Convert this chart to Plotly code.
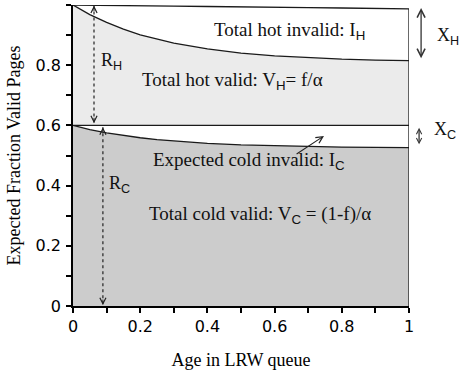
import plotly.graph_objects as go

# ---- data ----
age = [0, 0.05, 0.1, 0.15, 0.2, 0.25, 0.3, 0.4, 0.5, 0.6, 0.7, 0.8, 0.9, 1.0]
top_boundary = [1.0, 0.999, 0.999, 0.998, 0.997, 0.997, 0.996, 0.995, 0.993, 0.992, 0.991, 0.990, 0.988, 0.987]
hot_boundary = [1.0, 0.968, 0.942, 0.920, 0.901, 0.886, 0.873, 0.854, 0.840, 0.831, 0.825, 0.820, 0.817, 0.815]
split_level = [0.6, 0.6, 0.6, 0.6, 0.6, 0.6, 0.6, 0.6, 0.6, 0.6, 0.6, 0.6, 0.6, 0.6]
cold_boundary = [0.600, 0.586, 0.575, 0.566, 0.559, 0.553, 0.548, 0.540, 0.535, 0.532, 0.530, 0.528, 0.527, 0.526]

tick_vals = [0, 0.1, 0.2, 0.3, 0.4, 0.5, 0.6, 0.7, 0.8, 0.9, 1.0]
x_tick_text = ["0", "", "0.2", "", "0.4", "", "0.6", "", "0.8", "", "1"]
y_tick_text = ["0", "", "0.2", "", "0.4", "", "0.6", "", "0.8", "", "1"]

SANS = "DejaVu Sans"
SERIF = "Liberation Serif"

W, H = 460, 373
M = dict(l=73, r=51, t=5, b=67)
PLOT_H = H - M["t"] - M["b"]


def sub(s):
    return "<sub><span style='font-family:Liberation Sans'>%s</span></sub>" % s


region_labels = [
    ("Total hot invalid: I" + sub("H"), 0.643, 0.915),
    ("Total hot valid: V" + sub("H") + "= f/α", 0.476, 0.748),
    ("Expected cold invalid: I" + sub("C"), 0.524, 0.482),
    ("Total cold valid: V" + sub("C") + " = (1-f)/α", 0.557, 0.303),
]
side_labels = [
    ("R" + sub("H"), 0.077, 0.812),
    ("R" + sub("C"), 0.101, 0.404),
    ("X" + sub("H"), 1.078, 0.895),
    ("X" + sub("C"), 1.068, 0.583),
]
# dotted double arrows: (x, y_top, y_bottom)
dotted_arrows = [(0.0625, 0.998, 0.607), (0.089, 0.594, 0.003)]
# solid double arrows: (x, y_top, y_bottom, head size)
solid_arrows = [(1.036, 0.99, 0.818, 1.2), (1.03, 0.592, 0.532, 0.8)]
# pointer arrow: (tail x, tail y, head x, head y)
pointer = (0.661, 0.502, 0.747, 0.565)

LINE = "#1a1a1a"
fig = go.Figure()
fig.add_trace(go.Scatter(x=age, y=cold_boundary, mode="lines", fill="tozeroy",
                         fillcolor="#cccccc", line=dict(color=LINE, width=1.3),
                         cliponaxis=False, hoverinfo="skip"))
fig.add_trace(go.Scatter(x=age, y=split_level, mode="lines",
                         line=dict(color=LINE, width=1.3), cliponaxis=False, hoverinfo="skip"))
fig.add_trace(go.Scatter(x=age, y=hot_boundary, mode="lines", fill="tonexty",
                         fillcolor="#ebebeb", line=dict(color=LINE, width=1.3),
                         cliponaxis=False, hoverinfo="skip"))
fig.add_trace(go.Scatter(x=age, y=top_boundary, mode="lines",
                         line=dict(color=LINE, width=1.3), cliponaxis=False, hoverinfo="skip"))
fig.add_trace(go.Scatter(x=[age[-1], age[-1]], y=[0, top_boundary[-1]], mode="lines",
                         line=dict(color=LINE, width=1.3), cliponaxis=False, hoverinfo="skip"))

for (x, y0, y1) in dotted_arrows:
    fig.add_trace(go.Scatter(x=[x, x], y=[y0, y1], mode="lines",
                             line=dict(color="#222", width=1.2, dash="dot"),
                             cliponaxis=False, hoverinfo="skip"))
    fig.add_annotation(x=x, y=y0, ax=0, ay=7, text="", showarrow=True, arrowhead=5,
                       arrowsize=1.2, arrowwidth=1, arrowcolor="#222", standoff=0)
    fig.add_annotation(x=x, y=y1, ax=0, ay=-7, text="", showarrow=True, arrowhead=5,
                       arrowsize=1.2, arrowwidth=1, arrowcolor="#222", standoff=0)

# x range is [0, 1] over the full domain, so paper x equals data x
for (x, y0, y1, hs) in solid_arrows:
    fig.add_annotation(x=x, y=y0, xref="paper", yref="y", ax=0, ay=(y0 - y1) * PLOT_H,
                       text="", showarrow=True, arrowhead=5, arrowside="end+start", arrowsize=hs,
                       arrowwidth=1.3, arrowcolor="#333", standoff=0, startstandoff=0)

fig.add_annotation(x=pointer[2], y=pointer[3], ax=pointer[0], ay=pointer[1], axref="x", ayref="y",
                   text="", showarrow=True, arrowhead=5, arrowsize=1.2, arrowwidth=1.1,
                   arrowcolor="#222", standoff=0)

for (t, x, y) in region_labels:
    fig.add_annotation(x=x, y=y, text=t, showarrow=False, xanchor="center", yanchor="middle",
                       font=dict(family=SERIF, size=19, color="#111"))
for (t, x, y) in side_labels:
    fig.add_annotation(x=x, y=y, xref="paper", yref="y", text=t, showarrow=False,
                       xanchor="left", yanchor="middle",
                       font=dict(family=SERIF, size=18, color="#111"))

axis_common = dict(range=[0, 1], showgrid=False, zeroline=False, showline=True,
                   linecolor="black", linewidth=1.5, ticks="outside", ticklen=5,
                   tickwidth=1.5, tickcolor="black", tickvals=tick_vals,
                   tickfont=dict(family=SANS, size=16, color="black"))
fig.update_xaxes(**axis_common, ticktext=x_tick_text,
                 title=dict(text="Age in LRW queue", font=dict(family=SERIF, size=18, color="black"),
                            standoff=18))
fig.update_yaxes(**axis_common, ticktext=y_tick_text, ticklabelstandoff=2,
                 title=dict(text="Expected Fraction Valid Pages",
                            font=dict(family=SERIF, size=18, color="black"), standoff=10))

fig.update_layout(width=W, height=H, showlegend=False,
                  margin=dict(**M, autoexpand=False),
                  plot_bgcolor="white", paper_bgcolor="white")

fig.write_html("out.html")
